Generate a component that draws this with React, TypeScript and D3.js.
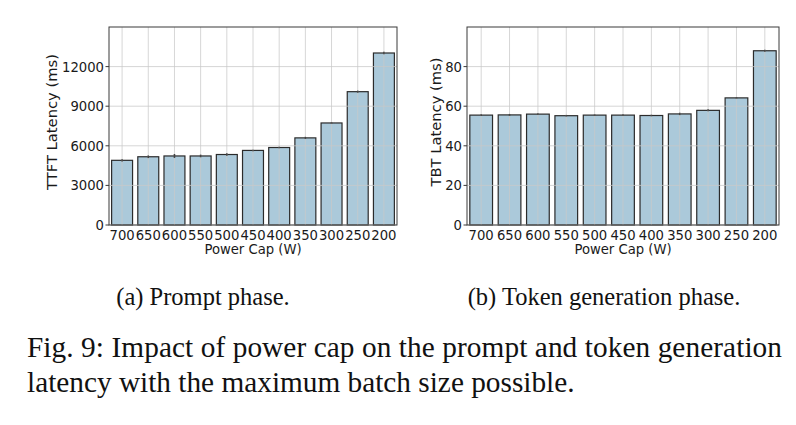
import React, { useEffect, useRef } from 'react';
import * as d3 from 'd3';

// power cap settings (x categories, same for both panels)
const powerCaps = ['700', '650', '600', '550', '500', '450', '400', '350', '300', '250', '200'];

// (a) prompt phase, TTFT latency in ms
const ttftMean = [4900, 5170, 5230, 5230, 5340, 5650, 5870, 6600, 7730, 10100, 13030];
const ttftErr = [80, 100, 150, 100, 100, 60, 60, 80, 60, 80, 100];
const ttftTicks = [0, 3000, 6000, 9000, 12000];

// (b) token generation phase, TBT latency in ms
const tbtMean = [55.5, 55.6, 56.0, 55.2, 55.5, 55.5, 55.3, 56.1, 57.9, 64.2, 88.0];
const tbtErr = [0.4, 0.5, 0.5, 0.4, 0.4, 0.4, 0.4, 0.6, 0.5, 0.4, 0.5];
const tbtTicks = [0, 20, 40, 60, 80];

const SANS = '"DejaVu Sans", sans-serif';
const SERIF = '"Liberation Serif", "Times New Roman", serif';
const FONT = 13.2;
const STRETCH = 1.05; // the figure is a bit taller than it is wide in the paper

interface PanelSpec {
  x0: number;
  x1: number;
  values: number[];
  errors: number[];
  ticks: number[];
  yMax: number;
  yLabel: string;
  yLabelX: number;
  yLabelLen: number;
}

const panels: PanelSpec[] = [
  { x0: 109, x1: 397, values: ttftMean, errors: ttftErr, ticks: ttftTicks, yMax: 15000, yLabel: 'TTFT Latency (ms)', yLabelX: 52, yLabelLen: 136 },
  { x0: 467, x1: 779, values: tbtMean, errors: tbtErr, ticks: tbtTicks, yMax: 100, yLabel: 'TBT Latency (ms)', yLabelX: 436, yLabelLen: 129 },
];

const App: React.FC = () => {
  const svgRef = useRef<SVGSVGElement>(null);

  useEffect(() => {
    if (!svgRef.current) return;
    const svg = d3.select(svgRef.current);
    svg.selectAll('*').remove();

    const top = 27;
    const bottom = 225;

    // horizontal text, slightly stretched vertically
    const hText = (g: any, x: number, y: number, str: string, anchor: string) => {
      g.append('text')
        .attr('transform', `translate(${x},${y}) scale(1,${STRETCH})`)
        .attr('text-anchor', anchor)
        .style('font-family', SANS)
        .style('font-size', `${FONT}px`)
        .attr('fill', '#1a1a1a')
        .text(str);
    };

    panels.forEach(p => {
      const g = svg.append('g');
      const x = d3.scaleBand<string>().domain(powerCaps).range([p.x0, p.x1]).paddingInner(0.2).paddingOuter(0.1);
      const y = d3.scaleLinear().domain([0, p.yMax]).range([bottom, top]);

      // bars
      g.selectAll('.bar')
        .data(p.values)
        .enter().append('rect')
        .attr('class', 'bar')
        .attr('x', (_, i) => x(powerCaps[i])!)
        .attr('width', x.bandwidth())
        .attr('y', d => y(d))
        .attr('height', d => bottom - y(d))
        .attr('fill', '#abc9da')
        .attr('stroke', '#2b2b2b')
        .attr('stroke-width', 1.2);

      // grid on top, light
      g.selectAll('.hgrid')
        .data(p.ticks)
        .enter().append('line')
        .attr('x1', p.x0).attr('x2', p.x1)
        .attr('y1', d => y(d)).attr('y2', d => y(d))
        .attr('stroke', '#c8c8c8').attr('stroke-opacity', 0.75).attr('stroke-width', 1);
      g.selectAll('.vgrid')
        .data(powerCaps)
        .enter().append('line')
        .attr('x1', d => x(d)! + x.bandwidth() / 2).attr('x2', d => x(d)! + x.bandwidth() / 2)
        .attr('y1', top).attr('y2', bottom)
        .attr('stroke', '#c8c8c8').attr('stroke-opacity', 0.75).attr('stroke-width', 1);

      // error bars
      g.selectAll('.err')
        .data(p.values)
        .enter().append('line')
        .attr('x1', (_, i) => x(powerCaps[i])! + x.bandwidth() / 2)
        .attr('x2', (_, i) => x(powerCaps[i])! + x.bandwidth() / 2)
        .attr('y1', (d, i) => y(d - p.errors[i]))
        .attr('y2', (d, i) => y(d + p.errors[i]))
        .attr('stroke', '#444').attr('stroke-width', 1.6);

      // frame
      g.append('rect')
        .attr('x', p.x0).attr('y', top)
        .attr('width', p.x1 - p.x0).attr('height', bottom - top)
        .attr('fill', 'none').attr('stroke', '#3a3a3a').attr('stroke-width', 1);

      // y ticks and labels
      p.ticks.forEach(t => {
        g.append('line')
          .attr('x1', p.x0 - 3.5).attr('x2', p.x0)
          .attr('y1', y(t)).attr('y2', y(t))
          .attr('stroke', '#3a3a3a').attr('stroke-width', 1);
        hText(g, p.x0 - 5, y(t) + 4.9, String(t), 'end');
      });

      // x tick labels
      powerCaps.forEach(c => {
        hText(g, x(c)! + x.bandwidth() / 2, 240, c, 'middle');
      });

      hText(g, (p.x0 + p.x1) / 2, 254, 'Power Cap (W)', 'middle');

      g.append('text')
        .attr('transform', `translate(${p.yLabelX},${(top + bottom) / 2 - 4}) rotate(-90)`)
        .attr('text-anchor', 'middle')
        .attr('dominant-baseline', 'central')
        .attr('textLength', p.yLabelLen)
        .attr('lengthAdjust', 'spacingAndGlyphs')
        .style('font-family', SANS)
        .style('font-size', `${FONT}px`)
        .attr('fill', '#1a1a1a')
        .text(p.yLabel);
    });

    // captions
    const cap = svg.append('g').style('font-family', SERIF).attr('fill', '#111');
    cap.append('text').attr('x', 203).attr('y', 305).attr('text-anchor', 'middle')
      .style('font-size', '24.5px').text('(a) Prompt phase.');
    cap.append('text').attr('x', 604).attr('y', 305).attr('text-anchor', 'middle')
      .style('font-size', '24.5px').text('(b) Token generation phase.');
    cap.append('text').attr('x', 27).attr('y', 357)
      .attr('textLength', 755).attr('lengthAdjust', 'spacing')
      .style('font-size', '29.3px').text('Fig. 9: Impact of power cap on the prompt and token generation');
    cap.append('text').attr('x', 27).attr('y', 392)
      .style('font-size', '29.3px').text('latency with the maximum batch size possible.');
  }, []);

  return (
    <svg
      ref={svgRef}
      width={796}
      height={425}
      style={{ position: 'absolute', left: 0, top: 0, background: '#fff' }}
    />
  );
};

export default App;
